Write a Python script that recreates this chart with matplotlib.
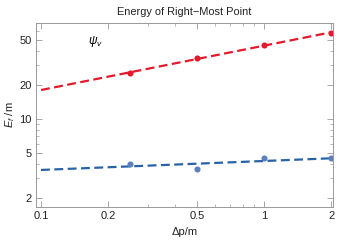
import numpy as np
import matplotlib
matplotlib.use('Agg')
import matplotlib.pyplot as plt
from matplotlib.ticker import FixedLocator, NullFormatter, LogLocator

plt.rcParams['font.family'] = ['Liberation Sans', 'DejaVu Sans']
plt.rcParams['mathtext.fontset'] = 'custom'
plt.rcParams['mathtext.it'] = 'Liberation Sans:italic'
plt.rcParams['mathtext.rm'] = 'Liberation Sans'

# data
dp = [0.25, 0.5, 1.0, 2.0]
energy_red = [25.4, 34.4, 45.5, 57.3]
energy_blue = [4.02, 3.61, 4.49, 4.49]
xticks = [0.1, 0.2, 0.5, 1, 2]
xticklabels = ['0.1', '0.2', '0.5', '1', '2']
yticks = [2, 5, 10, 20, 50]
yticklabels = ['2', '5', '10', '20', '50']

fig = plt.figure(figsize=(3.4, 2.41), dpi=100)
ax = fig.add_axes([0.106, 0.141, 0.873, 0.764])
ax.set_xscale('log')
ax.set_yscale('log')

# dashed lines are power-law fits through the points
xfit = np.array([0.1, 2.0])
for e, pc, lc in [(energy_red, '#e41a2c', '#e41a2c'),
                  (energy_blue, '#5b80bd', '#2763a6')]:
    a, b = np.polyfit(np.log10(dp), np.log10(e), 1)
    ax.plot(xfit, 10**(a*np.log10(xfit)+b), ls=(0, (4, 2)), color=lc, lw=1.6)
    ax.plot(dp, e, 'o', color=pc, ms=4.4, mec='none')

ax.set_xlim(0.095, 2.03)
ax.set_ylim(1.665, 70.7)

ax.xaxis.set_major_locator(FixedLocator(xticks))
ax.set_xticklabels(xticklabels)
ax.xaxis.set_minor_locator(LogLocator(base=10, subs=np.arange(1, 10)))
ax.xaxis.set_minor_formatter(NullFormatter())
ax.yaxis.set_major_locator(FixedLocator(yticks))
ax.set_yticklabels(yticklabels)
ax.yaxis.set_minor_locator(LogLocator(base=10, subs=np.arange(1, 10)))
ax.yaxis.set_minor_formatter(NullFormatter())

ax.tick_params(which='both', direction='in', top=True, right=True,
               color='#999999', labelsize=8, pad=3, labelcolor='#222222')
ax.tick_params(which='major', length=4, width=0.6)
ax.tick_params(which='minor', length=2, width=0.5)
for s in ax.spines.values():
    s.set_color('#999999')
    s.set_linewidth(0.7)

ax.set_title('Energy of Right\u2212Most Point', fontsize=7.9, pad=6, color='#222222')
ax.set_xlabel('\u0394p/m', fontsize=8, labelpad=4, color='#222222')
ax.set_ylabel(r'$E_f$ /m', fontsize=8, labelpad=2, color='#222222')
ax.text(0.176, 48, r'$\psi_v$', fontsize=8.5, ha='center', va='center')

fig.savefig('out.png', dpi=100)
